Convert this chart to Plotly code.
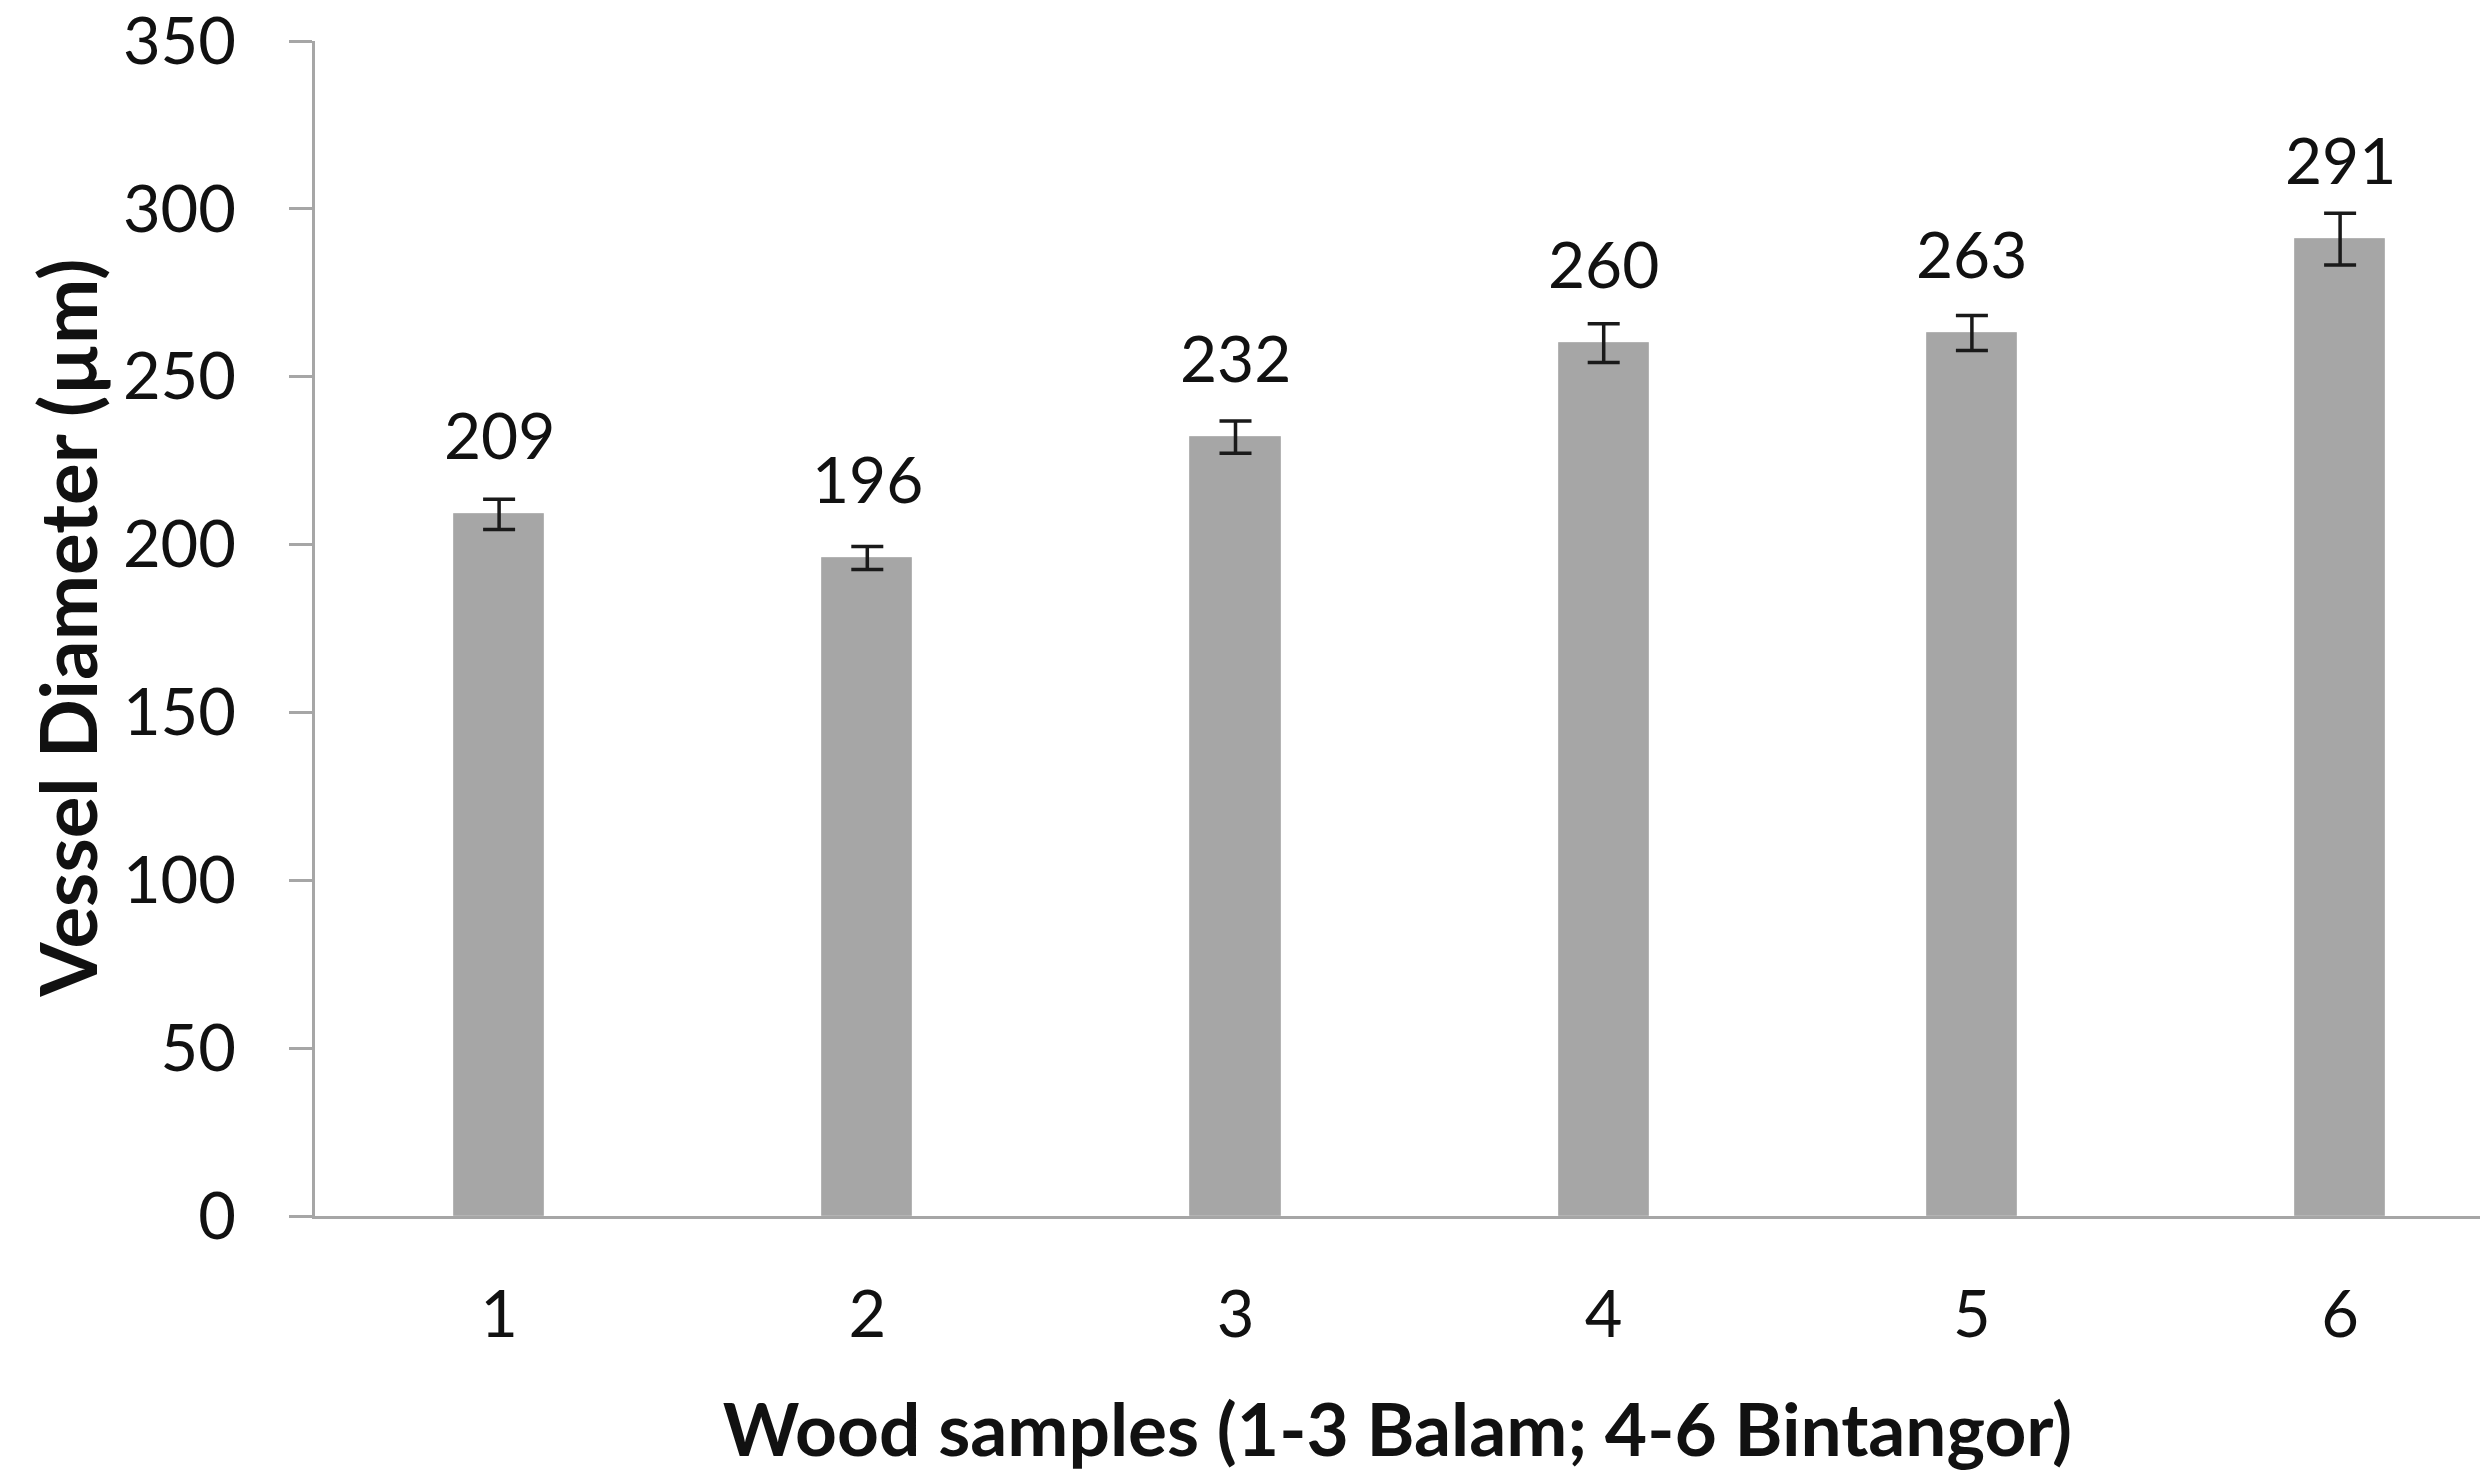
import plotly.graph_objects as go

categories = [1, 2, 3, 4, 5, 6]
tick_labels = ["1", "2", "3", "4", "5", "6"]
vessel_diameter = [209, 196, 232, 260, 263, 291]
error_values = [4.5, 3.4, 4.8, 5.8, 5.2, 7.7]
label_texts = ["209", "196", "232", "260", "263", "291"]

FONT = "Lato"
AXIS_GRAY = "#a6a6a6"

fig = go.Figure()
fig.add_trace(go.Bar(
    x=categories,
    y=vessel_diameter,
    width=0.245,
    marker=dict(color="#a6a6a6", line=dict(color="#b4b4b4", width=1)),
    error_y=dict(type="data", array=error_values, visible=True,
                 color="#1a1a1a", thickness=3.5, width=16),
    showlegend=False,
))

for xc, yv, t in zip(categories, vessel_diameter, label_texts):
    fig.add_annotation(x=xc, y=yv, text=t, showarrow=False,
                       yanchor="middle", yshift=80,
                       font=dict(family=FONT, size=64, color="#111111"))

# y-axis title placed as a rotated annotation
fig.add_annotation(
    xref="paper", yref="paper", x=-0.115, y=0.5,
    xanchor="center", yanchor="middle", textangle=-90,
    text="<b>Vessel Diameter (µm)</b>", showarrow=False,
    font=dict(family=FONT, size=78, color="#111111"),
)

fig.update_layout(
    width=2480, height=1483,
    margin=dict(l=315, r=0, t=37, b=267),
    plot_bgcolor="white", paper_bgcolor="white",
    font=dict(family=FONT, color="#111111"),
    bargap=0,
)
fig.update_yaxes(
    range=[0, 350], dtick=50, tick0=0,
    showgrid=False, zeroline=False,
    showline=True, linecolor=AXIS_GRAY, linewidth=3,
    ticks="outside", ticklen=23, tickwidth=3, tickcolor=AXIS_GRAY,
    tickfont=dict(family=FONT, size=65, color="#111111"),
    ticklabelstandoff=40,
    ticklabeloverflow="allow",
)
fig.update_xaxes(
    range=[0.5, 0.5 + (2480 - 315) / 368.2],
    tickmode="array", tickvals=categories, ticktext=tick_labels,
    showgrid=False, zeroline=False,
    showline=True, linecolor=AXIS_GRAY, linewidth=3,
    ticks="",
    tickfont=dict(family=FONT, size=65, color="#111111"),
    ticklabelstandoff=40,
    ticklabeloverflow="allow",
    title=dict(text="<b>Wood samples (1-3 Balam; 4-6 Bintangor)</b>",
               font=dict(family=FONT, size=73, color="#111111"), standoff=55),
)

fig.write_html("out.html")
